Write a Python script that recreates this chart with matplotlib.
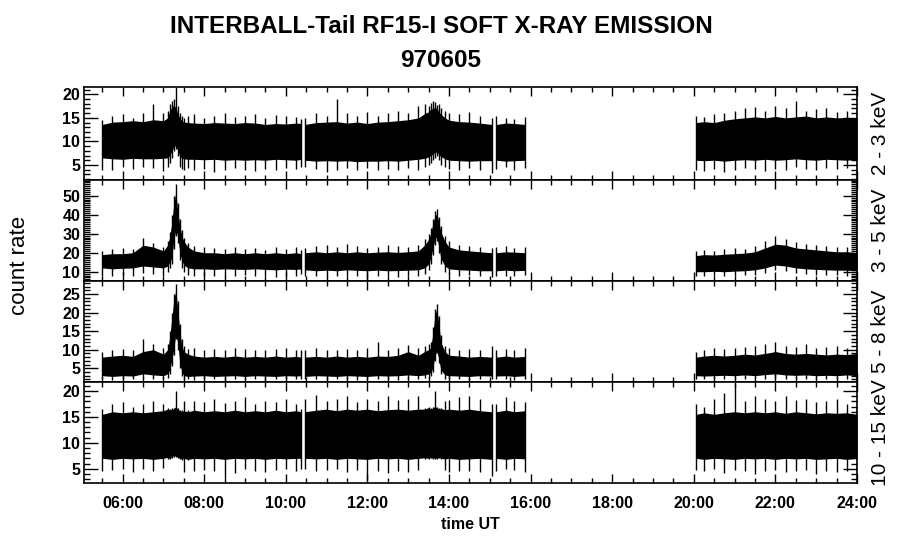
import numpy as np
import matplotlib
matplotlib.use("Agg")
import matplotlib.pyplot as plt
from matplotlib.ticker import MultipleLocator, FixedLocator

plt.rcParams['font.family'] = ['Liberation Sans', 'DejaVu Sans']

# sample times (hours UT), finer around the two flares
T = [5.50, 5.75, 6.00, 6.25, 6.50, 6.75, 7.00, 7.10, 7.15, 7.20, 7.25, 7.30, 7.35, 7.40, 7.45,
     7.50, 7.60, 7.75, 8.00, 8.25, 8.50, 8.75, 9.00, 9.25, 9.50, 9.75, 10.00, 10.25, 10.38,
     10.46, 10.75, 11.00, 11.25, 11.50, 11.75, 12.00, 12.25, 12.50, 12.75, 13.00, 13.25, 13.40,
     13.50, 13.55, 13.60, 13.65, 13.70, 13.75, 13.80, 13.90, 14.00, 14.25, 14.50, 14.75, 15.05,
     15.16, 15.40, 15.60, 15.87,
     20.06, 20.25, 20.50, 20.75, 21.00, 21.25, 21.50, 21.75, 22.00, 22.25, 22.50, 22.75, 23.00,
     23.25, 23.50, 23.75, 24.00]

# data segments (gaps in between)
SEGMENTS = [(5.50, 10.38), (10.46, 15.05), (15.16, 15.87), (20.06, 24.00)]

# 2 - 3 keV : dense band (lo..hi) and extreme excursions (dn..up)
CH1_HI = [13.6, 14.1, 14.2, 14.4, 14.2, 14.6, 14.4, 15.0, 16.3, 17.2, 17.7, 17.2, 15.9, 15.0, 14.4,
          14.1, 14.0, 13.9, 13.8, 14.0, 13.9, 13.8, 14.0, 13.9, 13.6, 13.8, 13.7, 13.9, 13.8,
          13.6, 14.0, 14.1, 14.2, 13.9, 14.1, 13.8, 14.1, 14.2, 14.4, 14.6, 15.0, 15.9,
          16.3, 16.8, 17.0, 17.2, 17.0, 16.3, 15.8, 15.0, 14.5, 14.2, 14.1, 13.9, 13.6,
          13.6, 13.9, 13.8, 13.6,
          14.0, 14.2, 14.0, 14.5, 14.8, 15.0, 15.2, 15.0, 15.3, 15.0, 15.2, 15.4, 15.0, 15.2, 15.0, 15.1, 14.9]
CH1_UP = [14.5, 15.5, 15.8, 15.0, 16.0, 18.0, 16.0, 16.5, 18.0, 18.5, 19.0, 21.5, 17.5, 16.0, 15.5,
          15.0, 15.5, 15.8, 15.0, 15.5, 16.0, 15.2, 15.5, 15.8, 15.0, 15.6, 15.4, 15.2, 14.8,
          15.0, 16.0, 15.5, 19.0, 16.0, 15.5, 16.2, 15.5, 16.0, 16.5, 16.0, 17.5, 18.0,
          17.5, 18.2, 18.5, 18.3, 17.8, 18.0, 17.0, 16.5, 16.0, 15.8, 16.2, 15.5, 15.0,
          15.3, 15.0, 14.8, 15.2,
          15.5, 15.2, 15.8, 16.0, 16.5, 17.0, 17.3, 16.5, 17.5, 17.0, 18.6, 16.5, 16.8, 17.0, 16.3, 16.5, 16.8]
CH1_LO = [6.5, 6.3, 6.2, 6.4, 6.3, 6.3, 6.4, 6.5, 7.0, 7.8, 8.8, 9.2, 8.0, 6.8, 6.4,
          6.3, 6.2, 6.2, 6.1, 6.2, 6.0, 6.1, 6.0, 6.1, 6.0, 6.2, 6.1, 6.0, 6.2,
          6.0, 5.8, 5.9, 5.8, 5.9, 5.7, 5.8, 5.8, 5.9, 5.8, 6.0, 6.2, 6.4,
          6.7, 7.0, 7.3, 7.6, 7.8, 7.2, 6.8, 6.3, 6.0, 5.9, 5.8, 5.9, 5.9,
          6.0, 5.8, 5.9, 6.0,
          6.0, 5.9, 6.0, 5.8, 6.0, 6.1, 6.0, 6.2, 6.0, 6.1, 6.3, 6.1, 6.0, 6.2, 6.1, 6.0, 6.2]
CH1_DN = [4.0, 4.0, 4.5, 4.2, 4.5, 4.3, 3.8, 4.5, 5.5, 6.5, 8.0, 8.3, 7.0, 4.5, 4.2,
          4.0, 4.3, 4.0, 4.2, 3.6, 4.0, 4.4, 4.0, 3.8, 4.1, 3.9, 4.3, 4.2, 4.5,
          4.5, 4.2, 3.5, 4.0, 4.3, 4.0, 4.3, 3.9, 4.2, 4.0, 4.3, 4.0, 4.5,
          5.0, 5.5, 6.0, 6.5, 7.0, 6.0, 5.0, 4.5, 4.2, 4.0, 4.3, 4.0, 3.2,
          4.2, 4.5, 3.9, 4.3,
          4.0, 3.8, 4.2, 3.6, 4.0, 4.3, 4.1, 3.8, 4.2, 4.0, 4.5, 4.1, 3.9, 4.3, 4.1, 4.4, 4.0]

# 3 - 5 keV
CH2_HI = [19.0, 19.5, 19.5, 20.0, 24.0, 23.0, 21.0, 24.0, 28.0, 35.0, 45.0, 52.0, 42.0, 34.0, 29.0,
          26.0, 23.0, 21.0, 20.0, 20.0, 19.5, 20.0, 19.5, 20.0, 19.5, 20.0, 19.5, 20.0, 19.5,
          20.0, 20.5, 20.0, 20.5, 20.0, 20.5, 20.0, 20.3, 20.5, 20.2, 20.5, 21.0, 24.0,
          27.0, 30.0, 35.0, 39.0, 40.5, 36.0, 31.0, 26.0, 23.0, 21.5, 21.0, 20.5, 20.0,
          20.0, 20.5, 20.3, 20.0,
          18.5, 19.0, 18.8, 19.2, 19.5, 19.8, 20.5, 22.5, 24.5, 24.0, 22.5, 22.0, 21.5, 21.0, 20.5, 20.5, 20.0]
CH2_UP = [21.0, 22.0, 22.5, 22.0, 27.5, 25.0, 23.0, 26.0, 31.0, 40.0, 50.0, 56.0, 46.0, 38.0, 32.0,
          28.0, 25.0, 23.5, 23.0, 22.5, 22.0, 23.0, 22.0, 22.5, 21.5, 23.0, 22.0, 23.0, 21.5,
          22.5, 23.5, 24.0, 23.0, 24.5, 23.5, 22.5, 23.0, 24.0, 23.5, 23.0, 24.0, 27.0,
          30.0, 33.0, 38.0, 42.0, 43.0, 39.0, 34.0, 29.0, 26.0, 24.0, 23.5, 23.0, 22.5,
          23.0, 23.5, 22.5, 23.0,
          21.0, 21.5, 21.0, 22.0, 22.5, 22.0, 23.5, 26.0, 29.0, 27.0, 25.5, 24.5, 24.0, 23.5, 23.0, 23.0, 22.0]
CH2_LO = [12.0, 11.5, 11.8, 12.0, 13.0, 12.5, 12.0, 13.0, 15.0, 17.0, 26.0, 32.0, 29.0, 20.0, 16.0,
          13.5, 12.0, 11.5, 11.5, 11.2, 11.5, 11.3, 11.2, 11.5, 11.2, 11.0, 11.3, 11.2, 11.5,
          11.0, 10.5, 10.8, 10.5, 11.0, 10.7, 10.5, 10.8, 10.5, 10.6, 10.8, 11.0, 12.0,
          14.0, 17.0, 22.0, 27.0, 28.5, 23.0, 17.0, 13.0, 11.5, 11.0, 10.8, 10.5, 10.5,
          10.5, 10.8, 10.5, 10.7,
          10.0, 10.0, 10.2, 10.0, 10.3, 10.5, 11.0, 12.0, 13.5, 13.0, 12.0, 11.5, 11.2, 11.0, 10.8, 10.8, 10.5]
CH2_DN = [8.0, 7.5, 8.5, 8.0, 9.5, 9.0, 8.0, 10.0, 12.0, 14.0, 22.0, 29.0, 25.0, 16.0, 12.0,
          10.0, 8.5, 8.0, 7.5, 8.0, 7.0, 7.8, 8.2, 7.5, 7.8, 7.2, 8.0, 7.5, 9.0,
          7.5, 8.0, 7.2, 8.0, 7.5, 7.8, 6.0, 7.5, 8.0, 7.2, 7.8, 8.0, 9.0,
          11.0, 14.0, 19.0, 24.0, 26.0, 20.0, 14.0, 10.0, 9.0, 8.0, 8.5, 7.5, 7.0,
          7.5, 8.0, 7.8, 8.5,
          7.5, 8.0, 7.8, 7.5, 8.0, 8.2, 8.5, 9.5, 11.0, 10.5, 9.5, 9.0, 8.5, 8.2, 8.5, 8.0, 8.0]

# 5 - 8 keV
CH3_HI = [8.0, 8.3, 8.5, 8.2, 9.5, 10.0, 8.8, 10.0, 13.0, 18.0, 23.0, 26.0, 21.0, 15.0, 11.0,
          9.5, 8.8, 8.3, 8.0, 8.2, 8.0, 8.3, 8.0, 8.2, 8.0, 8.3, 8.0, 8.2, 8.0,
          8.0, 8.2, 8.0, 8.3, 8.0, 8.2, 8.0, 8.3, 8.2, 8.5, 9.5, 8.5, 9.5,
          10.0, 10.5, 14.0, 19.0, 21.0, 17.0, 12.0, 9.5, 8.5, 8.3, 8.0, 8.2, 8.0,
          8.0, 8.3, 8.0, 8.2,
          8.0, 8.3, 8.5, 8.3, 8.5, 8.8, 8.6, 9.0, 9.5, 9.0, 8.8, 9.0, 8.8, 8.6, 8.8, 8.7, 9.0]
CH3_UP = [9.5, 10.0, 10.2, 10.0, 12.8, 11.5, 10.5, 11.5, 15.0, 20.0, 25.0, 27.8, 23.0, 17.0, 13.0,
          11.0, 10.3, 10.5, 10.0, 10.3, 10.0, 10.5, 10.2, 10.0, 9.8, 10.3, 10.5, 10.0, 9.8,
          10.0, 10.5, 10.0, 9.8, 10.3, 10.0, 10.5, 12.0, 10.0, 10.5, 11.3, 10.5, 11.0,
          11.5, 12.0, 16.0, 21.0, 22.3, 19.0, 14.0, 11.0, 10.5, 10.0, 10.3, 10.0, 11.0,
          10.0, 10.3, 10.0, 10.5,
          9.5, 10.0, 10.5, 10.2, 10.5, 10.8, 11.0, 11.5, 12.2, 11.0, 10.8, 11.5, 10.5, 10.8, 11.0, 10.5, 11.0]
CH3_LO = [3.0, 2.8, 3.0, 2.9, 3.5, 3.2, 3.0, 3.5, 4.5, 7.0, 10.0, 14.0, 12.0, 6.5, 4.0,
          3.0, 2.8, 2.9, 3.0, 2.8, 2.9, 3.0, 2.8, 3.0, 2.9, 2.8, 3.0, 2.9, 3.0,
          2.8, 3.0, 2.9, 2.8, 3.0, 2.9, 2.8, 3.0, 2.9, 3.0, 3.2, 3.0, 3.2,
          3.5, 3.8, 5.0, 8.0, 9.8, 7.5, 4.5, 3.2, 3.0, 2.9, 2.8, 3.0, 2.9,
          2.9, 3.0, 2.8, 3.0,
          3.0, 2.9, 3.0, 3.1, 3.0, 3.2, 3.0, 3.3, 3.5, 3.2, 3.1, 3.2, 3.0, 3.1, 3.0, 3.2, 3.0]
CH3_DN = [2.0, 1.9, 2.0, 2.1, 2.3, 2.2, 2.0, 2.5, 3.5, 5.5, 8.5, 13.0, 10.0, 5.0, 3.0,
          2.2, 2.0, 1.9, 2.0, 2.1, 1.9, 2.0, 2.2, 2.0, 1.9, 2.1, 2.0, 2.0, 2.0,
          2.0, 2.1, 1.9, 2.0, 2.2, 1.9, 2.0, 2.1, 2.0, 1.9, 2.2, 2.0, 2.3,
          2.5, 2.8, 4.0, 7.0, 9.2, 6.5, 3.5, 2.2, 2.0, 2.1, 1.9, 2.0, 2.0,
          2.0, 2.1, 1.9, 2.0,
          2.0, 2.1, 2.0, 2.2, 2.0, 2.1, 2.3, 2.2, 2.5, 2.1, 2.0, 2.2, 2.1, 2.0, 2.2, 2.0, 2.1]

# 10 - 15 keV
CH4_HI = [15.5, 16.0, 15.8, 16.0, 15.8, 16.0, 16.2, 16.5, 16.3, 16.5, 16.5, 17.0, 16.5, 16.2, 16.0,
          16.2, 16.0, 16.3, 16.0, 16.2, 16.0, 16.3, 16.0, 16.2, 16.0, 16.3, 16.0, 16.2, 16.0,
          16.0, 16.3, 16.5, 16.2, 16.5, 16.3, 16.5, 16.2, 16.4, 16.5, 16.3, 16.5, 16.5,
          16.8, 16.5, 16.7, 17.0, 16.8, 16.5, 16.6, 16.4, 16.5, 16.3, 16.5, 16.2, 16.0,
          16.0, 16.3, 16.0, 16.2,
          15.5, 15.8, 15.5, 15.8, 16.0, 15.8, 16.0, 15.8, 16.0, 15.7, 16.0, 15.8, 15.6, 15.8, 15.7, 15.8, 15.5]
CH4_UP = [16.5, 17.5, 17.8, 17.0, 17.5, 18.0, 17.5, 16.7, 16.5, 16.7, 16.8, 20.1, 16.7, 16.4, 16.3,
          18.0, 16.3, 18.0, 17.8, 18.5, 17.6, 18.0, 18.8, 17.5, 18.0, 17.8, 18.5, 17.5, 16.5,
          18.5, 19.2, 18.0, 18.5, 19.0, 17.8, 18.5, 18.0, 19.0, 18.2, 18.5, 19.0, 16.7,
          17.0, 16.7, 16.9, 20.0, 17.0, 16.7, 16.8, 18.0, 18.2, 18.8, 19.0, 18.5, 17.5,
          17.5, 18.8, 18.0, 17.8,
          17.5, 17.0, 18.5, 19.6, 21.4, 18.0, 19.0, 18.5, 18.0, 19.0, 18.2, 18.5, 17.8, 18.0, 18.5, 17.5, 17.0]
CH4_LO = [7.0, 6.8, 7.0, 6.9, 7.0, 6.8, 7.0, 7.2, 7.0, 7.3, 7.5, 7.5, 7.2, 7.0, 6.9,
          7.0, 6.8, 7.0, 6.9, 7.0, 6.8, 7.0, 6.9, 7.0, 6.8, 7.0, 6.9, 7.0, 7.0,
          7.0, 6.9, 7.0, 6.8, 7.0, 6.9, 6.8, 7.0, 6.9, 7.0, 6.8, 7.0, 7.1,
          7.0, 7.2, 7.0, 7.1, 7.0, 7.2, 7.0, 6.9, 7.0, 6.8, 6.9, 7.0, 6.8,
          7.0, 6.8, 7.0, 6.9,
          7.0, 6.8, 7.0, 6.9, 6.8, 7.0, 6.9, 7.0, 6.8, 7.0, 6.9, 7.0, 6.8, 6.9, 7.0, 6.8, 7.0]
CH4_DN = [4.5, 4.8, 5.0, 4.3, 5.0, 4.6, 5.2, 6.9, 6.8, 7.0, 7.2, 7.2, 7.0, 6.8, 6.7,
          4.3, 6.6, 4.5, 4.8, 4.6, 3.2, 4.2, 5.0, 4.6, 4.3, 4.8, 5.0, 4.5, 5.0,
          5.0, 4.5, 4.8, 5.0, 4.4, 4.8, 2.9, 4.5, 4.2, 4.6, 4.3, 4.8, 6.9,
          6.8, 7.0, 6.8, 6.9, 6.8, 7.0, 6.8, 4.8, 4.3, 4.6, 4.5, 4.4, 3.5,
          4.5, 5.0, 4.7, 4.3,
          4.8, 4.5, 5.0, 4.2, 4.8, 4.5, 4.0, 4.6, 4.8, 4.3, 4.5, 4.8, 4.0, 4.5, 4.3, 4.6, 4.5]

CHANNELS = ["2 - 3 keV", "3 - 5 keV", "5 - 8 keV", "10 - 15 keV"]
YLIMS = [(1.8, 21.55), (5.1, 58.3), (1.3, 28.5), (2.24, 21.74)]
YTICKS = [[5, 10, 15, 20], [10, 20, 30, 40, 50], [5, 10, 15, 20, 25], [5, 10, 15, 20]]
XTICKS = [6, 8, 10, 12, 14, 16, 18, 20, 22, 24]
XLABELS = ["06:00", "08:00", "10:00", "12:00", "14:00", "16:00", "18:00", "20:00", "22:00", "24:00"]

data = [(CH1_LO, CH1_HI, CH1_DN, CH1_UP),
        (CH2_LO, CH2_HI, CH2_DN, CH2_UP),
        (CH3_LO, CH3_HI, CH3_DN, CH3_UP),
        (CH4_LO, CH4_HI, CH4_DN, CH4_UP)]

fig = plt.figure(figsize=(9, 5.48), dpi=100)
gs = fig.add_gridspec(4, 1, height_ratios=[93, 101, 101, 101], hspace=0,
                      left=0.0937, right=0.9522, top=0.8412, bottom=0.1186)

t = np.array(T)
axes = []
for i in range(4):
    ax = fig.add_subplot(gs[i], sharex=axes[0] if axes else None)
    axes.append(ax)
    lo, hi, dn, up = [np.array(a) for a in data[i]]
    assert len(lo) == len(t) and len(hi) == len(t) and len(dn) == len(t) and len(up) == len(t)
    for t0, t1 in SEGMENTS:
        m = (t >= t0) & (t <= t1)
        ax.fill_between(t[m], lo[m], hi[m], color='k', lw=0)
        ax.vlines(t[m], dn[m], up[m], color='k', lw=1.0)

    ax.set_ylim(*YLIMS[i])
    ax.yaxis.set_major_locator(FixedLocator(YTICKS[i]))
    ax.yaxis.set_minor_locator(MultipleLocator(1))
    ax.set_xlim(5.06, 24.0)
    ax.xaxis.set_major_locator(FixedLocator(XTICKS))
    ax.xaxis.set_minor_locator(MultipleLocator(0.5))
    ax.tick_params(which='both', direction='in', top=True, right=True, width=1, colors='k')
    ax.tick_params(axis='x', which='major', length=6.5)
    ax.tick_params(axis='x', which='minor', length=3.5)
    ax.tick_params(axis='y', which='major', length=10, pad=3, labelsize=11.5)
    ax.tick_params(axis='y', which='minor', length=4.5)
    for lab in ax.get_yticklabels():
        lab.set_fontweight('bold')
    for s in ax.spines.values():
        s.set_linewidth(1.2)
    ax.text(1.03, 0.5, CHANNELS[i], transform=ax.transAxes, rotation=90,
            ha='center', va='center', fontsize=15)
    if i < 3:
        ax.tick_params(axis='x', labelbottom=False)

axes[-1].set_xticks(XTICKS)
axes[-1].set_xticklabels(XLABELS, fontsize=11.5, fontweight='bold')
axes[-1].tick_params(axis='x', which='major', pad=9)
axes[-1].set_xlabel("time UT", fontsize=11.5, fontweight='bold', labelpad=5)

fig.text(0.49, 0.951, "INTERBALL-Tail RF15-I SOFT X-RAY EMISSION", ha='center', va='center',
         fontsize=17.5, fontweight='bold')
fig.text(0.49, 0.889, "970605", ha='center', va='center', fontsize=17.5, fontweight='bold')
fig.text(0.022, 0.516, "count rate", rotation=90, ha='center', va='center', fontsize=16)

fig.savefig("out.png", dpi=100)
